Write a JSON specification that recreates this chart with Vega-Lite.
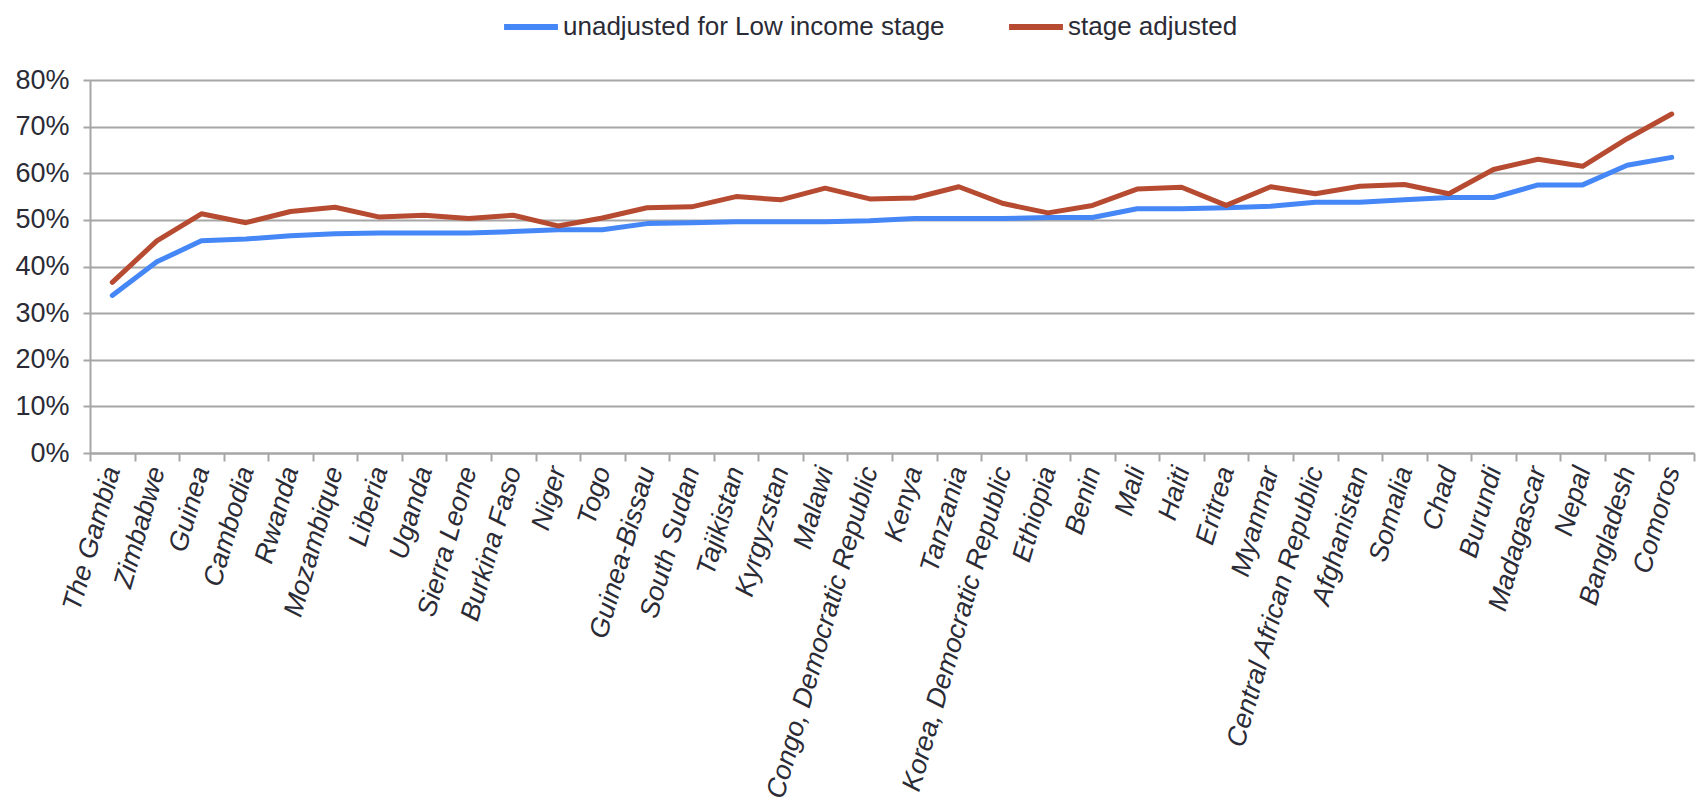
{
  "$schema": "https://vega.github.io/schema/vega-lite/v6.json",
  "width": 1697,
  "height": 803,
  "autosize": {"type": "fit", "contains": "padding"},
  "padding": {"left": 14, "right": 2, "top": 66, "bottom": 2},
  "background": "white",
  "config": {
    "font": "Liberation Sans",
    "view": {"stroke": null}
  },
  "datasets": {
    "rates": [
      {"country": "The Gambia", "unadjusted": 0.338, "adjusted": 0.366},
      {"country": "Zimbabwe", "unadjusted": 0.41, "adjusted": 0.455},
      {"country": "Guinea", "unadjusted": 0.455, "adjusted": 0.513},
      {"country": "Cambodia", "unadjusted": 0.459, "adjusted": 0.494},
      {"country": "Rwanda", "unadjusted": 0.466, "adjusted": 0.518},
      {"country": "Mozambique", "unadjusted": 0.47, "adjusted": 0.527},
      {"country": "Liberia", "unadjusted": 0.472, "adjusted": 0.506},
      {"country": "Uganda", "unadjusted": 0.472, "adjusted": 0.51},
      {"country": "Sierra Leone", "unadjusted": 0.472, "adjusted": 0.503},
      {"country": "Burkina Faso", "unadjusted": 0.475, "adjusted": 0.51},
      {"country": "Niger", "unadjusted": 0.479, "adjusted": 0.487},
      {"country": "Togo", "unadjusted": 0.479, "adjusted": 0.504},
      {"country": "Guinea-Bissau", "unadjusted": 0.492, "adjusted": 0.526},
      {"country": "South Sudan", "unadjusted": 0.494, "adjusted": 0.528},
      {"country": "Tajikistan", "unadjusted": 0.496, "adjusted": 0.55},
      {"country": "Kyrgyzstan", "unadjusted": 0.496, "adjusted": 0.543},
      {"country": "Malawi", "unadjusted": 0.496, "adjusted": 0.568},
      {"country": "Congo, Democratic Republic", "unadjusted": 0.498, "adjusted": 0.545},
      {"country": "Kenya", "unadjusted": 0.503, "adjusted": 0.547},
      {"country": "Tanzania", "unadjusted": 0.503, "adjusted": 0.571},
      {"country": "Korea, Democratic Republic", "unadjusted": 0.503, "adjusted": 0.535},
      {"country": "Ethiopia", "unadjusted": 0.505, "adjusted": 0.515},
      {"country": "Benin", "unadjusted": 0.505, "adjusted": 0.531},
      {"country": "Mali", "unadjusted": 0.524, "adjusted": 0.566},
      {"country": "Haiti", "unadjusted": 0.524, "adjusted": 0.57},
      {"country": "Eritrea", "unadjusted": 0.526, "adjusted": 0.531},
      {"country": "Myanmar", "unadjusted": 0.529, "adjusted": 0.571},
      {"country": "Central African Republic", "unadjusted": 0.538, "adjusted": 0.556},
      {"country": "Afghanistan", "unadjusted": 0.538, "adjusted": 0.572},
      {"country": "Somalia", "unadjusted": 0.543, "adjusted": 0.576},
      {"country": "Chad", "unadjusted": 0.548, "adjusted": 0.556},
      {"country": "Burundi", "unadjusted": 0.548, "adjusted": 0.608},
      {"country": "Madagascar", "unadjusted": 0.575, "adjusted": 0.63},
      {"country": "Nepal", "unadjusted": 0.575, "adjusted": 0.615},
      {"country": "Bangladesh", "unadjusted": 0.617, "adjusted": 0.674},
      {"country": "Comoros", "unadjusted": 0.634, "adjusted": 0.727}
    ]
  },
  "data": {"name": "rates"},
  "transform": [
    {"fold": ["unadjusted", "adjusted"], "as": ["key", "value"]},
    {"calculate": "datum.key === 'unadjusted' ? 'unadjusted for Low income stage' : 'stage adjusted'", "as": "series"}
  ],
  "mark": {"type": "line", "strokeWidth": 5, "strokeCap": "round", "strokeJoin": "round"},
  "encoding": {
    "x": {
      "field": "country",
      "type": "nominal",
      "sort": null,
      "scale": {"type": "band", "paddingInner": 0, "paddingOuter": 0},
      "axis": {
        "title": null,
        "labelAngle": -74,
        "labelFontSize": 27,
        "labelFontStyle": "italic",
        "labelColor": "#2b2b36",
        "labelPadding": 6,
        "labelLimit": 500,
        "tickBand": "extent",
        "tickColor": "#a6a6a6",
        "tickWidth": 2,
        "tickSize": 8,
        "domainColor": "#a6a6a6",
        "domainWidth": 2,
        "grid": false
      }
    },
    "y": {
      "field": "value",
      "type": "quantitative",
      "scale": {"domain": [0, 0.8], "nice": false},
      "axis": {
        "title": null,
        "format": ".0%",
        "values": [0, 0.1, 0.2, 0.3, 0.4, 0.5, 0.6, 0.7, 0.8],
        "labelFontSize": 27,
        "labelColor": "#2b2b36",
        "labelPadding": 14,
        "grid": true,
        "gridColor": "#a6a6a6",
        "gridWidth": 2,
        "tickColor": "#a6a6a6",
        "tickWidth": 2,
        "tickSize": 7,
        "domainColor": "#a6a6a6",
        "domainWidth": 2
      }
    },
    "color": {
      "field": "series",
      "type": "nominal",
      "scale": {
        "domain": ["unadjusted for Low income stage", "stage adjusted"],
        "range": ["#4587f7", "#b64b31"]
      },
      "legend": {
        "title": null,
        "orient": "none",
        "legendX": 411,
        "legendY": -83,
        "direction": "horizontal",
        "symbolType": "stroke",
        "symbolStrokeWidth": 6,
        "symbolSize": 2900,
        "labelFontSize": 26,
        "labelColor": "#2b2b36",
        "labelOffset": 2,
        "labelLimit": 600,
        "columnPadding": 52
      }
    }
  }
}
